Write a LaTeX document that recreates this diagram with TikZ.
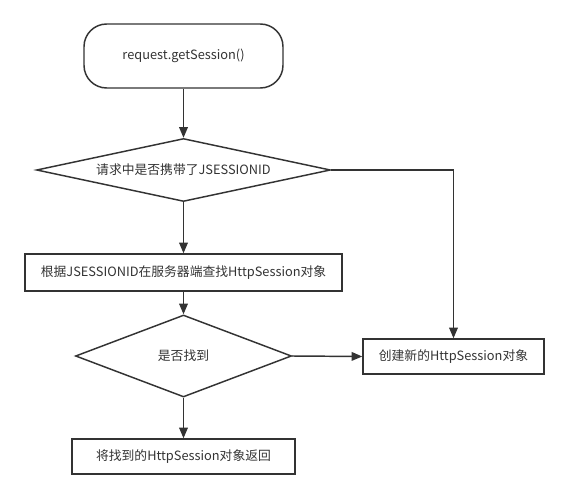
\documentclass[tikz,border=0pt]{standalone}
\usepackage{fontspec}
\setmainfont{Noto Sans CJK SC}
\usetikzlibrary{shapes.geometric,arrows.meta}
\definecolor{ink}{HTML}{333333}
\begin{document}
\begin{tikzpicture}[x=0.75pt,y=-0.75pt,line width=1.1pt,draw=ink,text=ink,
  font=\fontsize{9.6}{12}\selectfont,
  box/.style={draw=ink,rectangle,inner sep=0pt},
  decide/.style={draw=ink,diamond,inner sep=0pt},
  arr/.style={draw=ink,-{Triangle[length=8pt,width=6.5pt]}}]
\useasboundingbox (0,0) rectangle (568,499);
\node[box,rounded corners=17pt,minimum width=199*0.75pt,minimum height=64*0.75pt] (start) at (183.5,56) {request.getSession()};
\node[decide,minimum width=294*0.75pt,minimum height=63*0.75pt,aspect=4.6] (hasid) at (183.5,170) {请求中是否携带了JSESSIONID};
\node[box,minimum width=317*0.75pt,minimum height=37*0.75pt] (lookup) at (183.5,272.5) {根据JSESSIONID在服务器端查找HttpSession对象};
\node[decide,minimum width=216*0.75pt,minimum height=82*0.75pt,aspect=2.6] (found) at (183.5,356) {是否找到};
\node[box,minimum width=181*0.75pt,minimum height=35*0.75pt] (create) at (453.5,356.5) {创建新的HttpSession对象};
\node[box,minimum width=223*0.75pt,minimum height=35*0.75pt] (back) at (183.5,456.5) {将找到的HttpSession对象返回};
\draw[arr] (start) -- (hasid);
\draw[arr] (hasid) -- (lookup);
\draw[arr] (lookup) -- (found);
\draw[arr] (found.east) -- (create.west);
\draw[arr] (found) -- (back);
\draw[arr] (hasid.east) -| (create.north);
\end{tikzpicture}
\end{document}
